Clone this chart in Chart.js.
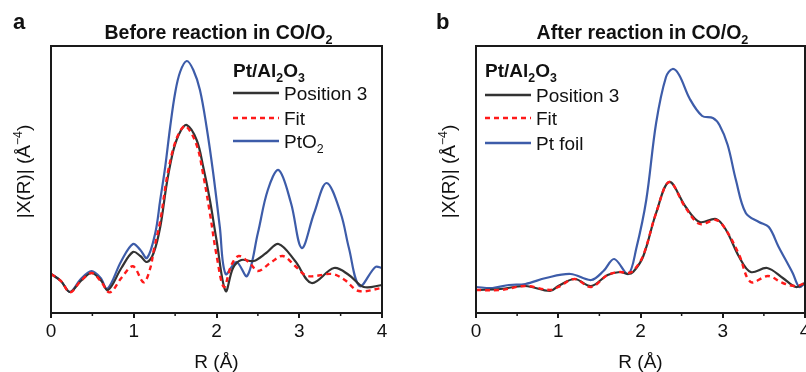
<!DOCTYPE html>
<html>
<head>
<meta charset="utf-8">
<script src="https://cdn.jsdelivr.net/npm/chart.js@4"></script>
<style>
  html, body { margin: 0; padding: 0; background: #fff; }
  #wrap { position: relative; width: 806px; height: 372px; overflow: hidden; }
  canvas { position: absolute; top: 0; }
</style>
</head>
<body>
<div id="wrap">
  <canvas id="left" width="400" height="372" style="left:0"></canvas>
  <canvas id="right" width="406" height="372" style="left:400px"></canvas>
</div>
<script>
// x ticks (R, Å)
const rTicks = [0, 1, 2, 3, 4];
const rMinor = [0.5, 1.5, 2.5, 3.5];

// panel a : before reaction
const aPosR = [0, 0.12, 0.23, 0.36, 0.49, 0.6, 0.69, 0.85, 0.99, 1.08, 1.16, 1.24, 1.32, 1.40, 1.48, 1.56, 1.64, 1.76, 1.84, 1.92, 2.00, 2.11, 2.2, 2.3, 2.45, 2.6, 2.75, 2.95, 3.15, 3.42, 3.6, 3.78, 4.0];
const aPosY = [39, 32, 21, 32, 40, 33, 23, 45, 61, 57, 51, 60, 86, 130, 163, 181, 188, 173, 146, 113, 73, 22, 45, 53, 52, 60, 69, 52, 30, 45, 38, 26, 28];
const aFitR = [0, 0.12, 0.23, 0.36, 0.49, 0.6, 0.71, 0.85, 0.99, 1.12, 1.2, 1.24, 1.32, 1.40, 1.48, 1.56, 1.63, 1.76, 1.84, 1.92, 2.00, 2.09, 2.18, 2.27, 2.4, 2.5, 2.65, 2.8, 2.95, 3.1, 3.4, 3.55, 3.72, 4.0];
const aFitY = [39, 32, 20.6, 32, 40, 32, 20.6, 35, 46.7, 30.7, 45, 62, 92, 135, 165, 182, 187, 168, 138, 100, 58, 26, 48, 57, 50, 42, 50, 57, 47, 37, 39, 33, 22, 25];
const aRefR = [0, 0.12, 0.23, 0.36, 0.49, 0.6, 0.68, 0.85, 0.99, 1.08, 1.16, 1.26, 1.32, 1.38, 1.44, 1.50, 1.56, 1.64, 1.72, 1.80, 1.88, 1.96, 2.04, 2.11, 2.24, 2.37, 2.5, 2.62, 2.75, 2.9, 3.03, 3.18, 3.33, 3.5, 3.6, 3.73, 3.92, 4.0];
const aRefY = [39, 32, 21, 34, 42, 35, 24, 52, 69, 63, 55, 80, 113, 146, 186, 220, 241, 252, 243, 223, 186, 140, 86, 39, 51, 37, 80, 123, 143, 110, 65, 100, 130, 100, 65, 27, 46, 45];

// panel b : after reaction
const bPosR = [0, 0.3, 0.6, 0.9, 1.0, 1.2, 1.4, 1.6, 1.75, 1.85, 1.91, 2.03, 2.19, 2.35, 2.55, 2.72, 2.92, 3.04, 3.2, 3.34, 3.54, 3.73, 3.89, 4.0];
const bPosY = [23, 24, 27, 22, 27, 34, 27, 38, 41, 39, 41, 56, 100, 131, 106, 91, 94, 83, 56, 41, 45, 35, 26, 30];
const bFitR = [0, 0.3, 0.6, 0.9, 1.0, 1.2, 1.4, 1.6, 1.75, 1.85, 1.91, 2.03, 2.19, 2.35, 2.55, 2.72, 2.92, 3.04, 3.2, 3.34, 3.55, 3.73, 3.89, 4.0];
const bFitY = [23, 23, 27, 23, 26, 34, 26, 38, 41, 40, 42, 57, 100, 131, 105, 89, 93, 83, 58, 31, 37, 30, 27, 30];
const bRefR = [0, 0.2, 0.4, 0.6, 0.85, 1.15, 1.4, 1.55, 1.68, 1.85, 1.95, 2.07, 2.19, 2.31, 2.39, 2.47, 2.6, 2.75, 2.88, 2.96, 3.06, 3.16, 3.28, 3.44, 3.56, 3.68, 3.85, 3.93, 4.0];
const bRefY = [26, 25, 28, 29, 35, 39, 33, 42, 54, 39, 65, 113, 190, 236, 244, 238, 214, 197, 195, 188, 168, 133, 100, 91, 86, 66, 40, 26, 30];

const FONT = "'Liberation Sans', Arial, sans-serif";
const BLACK = "#333333", RED = "#ff1a1a", BLUE = "#3d5ca9";

function pts(xs, ys) {
    return xs.map((x, i) => ({ x: x, y: ys[i] }));
}

// draw text made of normal / sub / sup pieces
function richWidth(ctx, parts, size, weight) {
    let w = 0;
    parts.forEach(p => {
        let s = p[1] === "n" ? size : size * 0.65;
        ctx.font = weight + " " + s + "px " + FONT;
        w += ctx.measureText(p[0]).width;
    });
    return w;
}
function drawRich(ctx, parts, x, y, size, weight, align) {
    let w = richWidth(ctx, parts, size, weight);
    if (align === "center") x -= w / 2;
    ctx.textAlign = "left";
    ctx.textBaseline = "alphabetic";
    parts.forEach(p => {
        let s = p[1] === "n" ? size : size * 0.65;
        let dy = p[1] === "sub" ? size * 0.28 : (p[1] === "sup" ? -size * 0.42 : 0);
        ctx.font = weight + " " + s + "px " + FONT;
        ctx.fillText(p[0], x, y + dy);
        x += ctx.measureText(p[0]).width;
    });
}

const decor = {
    id: "decor",
    afterDraw(chart) {
        const ctx = chart.ctx;
        const a = chart.chartArea;
        const o = chart.options.plugins.decor;
        const xs = chart.scales.x;
        ctx.save();
        ctx.fillStyle = "#111";
        ctx.strokeStyle = "#1a1a1a";

        // frame
        ctx.lineWidth = 2;
        ctx.strokeRect(a.left, a.top, a.right - a.left, a.bottom - a.top);

        // minor ticks
        ctx.lineWidth = 1.5;
        rMinor.forEach(v => {
            let px = xs.getPixelForValue(v);
            ctx.beginPath();
            ctx.moveTo(px, a.bottom);
            ctx.lineTo(px, a.bottom + 3);
            ctx.stroke();
        });

        // panel letter and title
        ctx.font = "bold 22px " + FONT;
        ctx.textAlign = "left";
        ctx.textBaseline = "alphabetic";
        ctx.fillText(o.letter, o.letterX, 29);
        drawRich(ctx, o.title, (a.left + a.right) / 2 + 2, 39, 19.5, "bold", "center");

        // y axis title, rotated
        ctx.save();
        ctx.translate(a.left - 21, (a.top + a.bottom) / 2 - 8);
        ctx.rotate(-Math.PI / 2);
        drawRich(ctx, [["|X(R)| (Å", "n"], ["−4", "sup"], [")", "n"]], 0, 0, 19, "normal", "center");
        ctx.restore();

        // legend
        const lx = a.left + o.legendX;
        drawRich(ctx, [["Pt/Al", "n"], ["2", "sub"], ["O", "n"], ["3", "sub"]], lx, 77, 19, "bold", "left");
        const rows = [[BLACK, [], [["Position 3", "n"]]], [RED, [5, 4], [["Fit", "n"]]], [BLUE, [], o.refLabel]];
        rows.forEach((r, i) => {
            let y = o.rowY[i];
            ctx.strokeStyle = r[0];
            ctx.lineWidth = 2.4;
            ctx.setLineDash(r[1]);
            ctx.beginPath();
            ctx.moveTo(lx, y);
            ctx.lineTo(lx + 46, y);
            ctx.stroke();
            ctx.setLineDash([]);
            ctx.fillStyle = "#111";
            drawRich(ctx, r[2], lx + 51, y + 7, 19, "normal", "left");
        });
        ctx.restore();
    }
};

function makePanel(id, cfg) {
    const ctx = document.getElementById(id).getContext("2d");
    return new Chart(ctx, {
        type: "line",
        data: {
            datasets: [
                { label: "Position 3", data: pts(cfg.posR, cfg.posY), borderColor: BLACK, borderWidth: 2.2, order: 1 },
                { label: "Fit", data: pts(cfg.fitR, cfg.fitY), borderColor: RED, borderWidth: 2.4, borderDash: [5, 4], order: 0 },
                { label: cfg.refName, data: pts(cfg.refR, cfg.refY), borderColor: BLUE, borderWidth: 2.2, order: 2 }
            ]
        },
        options: {
            responsive: false,
            animation: false,
            devicePixelRatio: 1,
            elements: {
                point: { radius: 0 },
                line: { tension: 0.35, fill: false }
            },
            layout: { padding: { top: 46, left: 0, right: cfg.padRight, bottom: 0 } },
            plugins: {
                legend: { display: false },
                tooltip: { enabled: false },
                decor: cfg.decor
            },
            scales: {
                x: {
                    type: "linear",
                    min: 0, max: 4,
                    afterBuildTicks(s) { s.ticks = rTicks.map(v => ({ value: v })); },
                    afterFit(s) { s.height = 59; s.paddingLeft = 0; s.paddingRight = 0; },
                    ticks: { font: { family: FONT, size: 19 }, color: "#111", padding: 2, maxRotation: 0 },
                    grid: { drawOnChartArea: false, drawTicks: true, tickLength: 5, color: "#1a1a1a", lineWidth: 2 },
                    border: { display: false },
                    title: { display: true, text: "R (Å)", font: { family: FONT, size: 19, lineHeight: 1 }, color: "#111", padding: { top: 0, bottom: 0 } }
                },
                y: {
                    min: 0, max: 267,
                    afterFit(s) { s.width = cfg.yWidth; },
                    ticks: { display: false },
                    grid: { display: false },
                    border: { display: false }
                }
            }
        },
        plugins: [decor]
    });
}

makePanel("left", {
    posR: aPosR, posY: aPosY, fitR: aFitR, fitY: aFitY, refR: aRefR, refY: aRefY,
    refName: "PtO2", padRight: 18, yWidth: 51,
    decor: {
        letter: "a", letterX: 13,
        title: [["Before reaction in CO/O", "n"], ["2", "sub"]],
        legendX: 182, rowY: [93, 118, 141],
        refLabel: [["PtO", "n"], ["2", "sub"]]
    }
});

makePanel("right", {
    posR: bPosR, posY: bPosY, fitR: bFitR, fitY: bFitY, refR: bRefR, refY: bRefY,
    refName: "Pt foil", padRight: 1, yWidth: 76,
    decor: {
        letter: "b", letterX: 36,
        title: [["After reaction in CO/O", "n"], ["2", "sub"]],
        legendX: 9, rowY: [95, 118, 143],
        refLabel: [["Pt foil", "n"]]
    }
});
</script>
</body>
</html>
